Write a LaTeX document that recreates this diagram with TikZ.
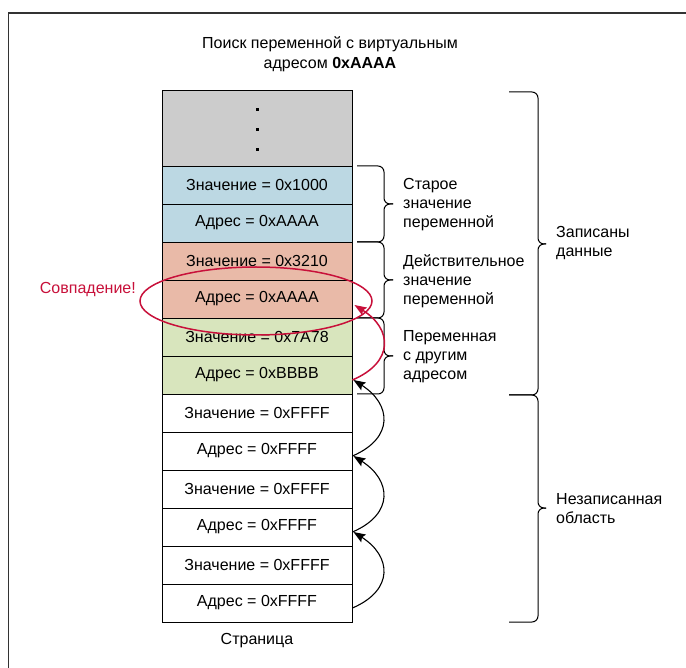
\documentclass[tikz,border=0pt]{standalone}
\usepackage{fontspec}
\setmainfont{Liberation Sans}
\usetikzlibrary{arrows.meta,shapes.geometric,calc}
\definecolor{cgray}{HTML}{CCCCCC}
\definecolor{cblue}{HTML}{BCD8E3}
\definecolor{cpink}{HTML}{E9BAA8}
\definecolor{cgreen}{HTML}{D8E5BD}
\definecolor{cred}{HTML}{C8103A}
\definecolor{frame}{HTML}{333333}
\tikzset{
  cell/.style={draw, line width=0.9pt, minimum width=190pt, minimum height=38pt, inner sep=0pt, font=\fontsize{16}{19}\selectfont},
  lbl/.style={align=left, anchor=west, inner sep=0pt, font=\fontsize{16}{19}\selectfont},
  brace/.style={draw, line width=1pt, rounded corners=6pt},
  hop/.style={draw, line width=1.1pt, -{Stealth[length=12pt,width=9pt,inset=2pt]}},
}
\begin{document}
\begin{tikzpicture}[x=1pt,y=-1pt]
\useasboundingbox (0,0) rectangle (686,668);
\fill[white] (0,0) rectangle (686,668);
\draw[frame, line width=1.5pt] (8.5,668) -- (8.5,13) -- (686,13);
% title
\node[align=center, inner sep=0pt, font=\fontsize{16}{20}\selectfont] (title) at (330,54) {Поиск переменной с виртуальным\\адресом \textbf{0xAAAA}};
% column
\node[cell, fill=cgray, minimum height=76pt] (top) at (257,128) {};
\foreach \yy in {110,130,150} \fill (255.5,\yy-1.5) rectangle (258.5,\yy+1.5);
\node[cell, fill=cblue] (v1) at (257,185) {Значение = 0x1000};
\node[cell, fill=cblue] (a1) at (257,223) {Адрес = 0xAAAA};
\node[cell, fill=cpink] (v2) at (257,261) {Значение = 0x3210};
\node[cell, fill=cpink] (a2) at (257,299) {Адрес = 0xAAAA};
\node[cell, fill=cgreen] (v3) at (257,337) {Значение = 0x7A78};
\node[cell, fill=cgreen] (a3) at (257,375) {Адрес = 0xBBBB};
\node[cell, fill=white] (v4) at (257,413) {Значение = 0xFFFF};
\node[cell, fill=white] (a4) at (257,451) {Адрес = 0xFFFF};
\node[cell, fill=white] (v5) at (257,489) {Значение = 0xFFFF};
\node[cell, fill=white] (a5) at (257,527) {Адрес = 0xFFFF};
\node[cell, fill=white] (v6) at (257,565) {Значение = 0xFFFF};
\node[cell, fill=white] (a6) at (257,603) {Адрес = 0xFFFF};
\node[inner sep=0pt, font=\fontsize{16}{19}\selectfont] (page) at (257,641) {Страница};
% small braces
\draw[brace] (357,166) -- (384,166) -- (384,204) -- (393,204);
\draw[brace] (357,242) -- (384,242) -- (384,204) -- (393,204);
\draw[brace] (357,242) -- (384,242) -- (384,280) -- (393,280);
\draw[brace] (357,318) -- (384,318) -- (384,280) -- (393,280);
\draw[brace] (357,318) -- (384,318) -- (384,356) -- (393,356);
\draw[brace] (357,394) -- (384,394) -- (384,356) -- (393,356);
\node[lbl] (l1) at (403,205) {Старое\\значение\\переменной};
\node[lbl] (l2) at (403,281) {Действительное\\значение\\переменной};
\node[lbl] (l3) at (403,357) {Переменная\\с другим\\адресом};
% large braces
\draw[brace] (509,92) -- (538,92) -- (538,244) -- (546,244);
\draw[brace] (509,395) -- (538,395) -- (538,244) -- (546,244);
\draw[brace] (509,395) -- (538,395) -- (538,508) -- (546,508);
\draw[brace] (509,622) -- (538,622) -- (538,508) -- (546,508);
\node[lbl] (l4) at (556,243) {Записаны\\данные};
\node[lbl] (l5) at (556,509) {Незаписанная\\область};
% match
\node[draw=cred, line width=1.5pt, ellipse, minimum width=232pt, minimum height=68pt, inner sep=0pt] (match) at (256,301) {};
\node[text=cred, inner sep=0pt, font=\fontsize{16}{19}\selectfont, anchor=east] (mlbl) at (136,290) {Совпадение!};
% hops
\coordinate (s6) at ($(a6.east)+(0,5)$);
\coordinate (e5) at ($(a5.east)+(1,5)$);
\coordinate (s5) at ($(a5.east)+(0,5)$);
\coordinate (e4) at ($(a4.east)+(1,5)$);
\coordinate (s4) at ($(a4.east)+(0,5)$);
\coordinate (e3) at ($(a3.east)+(1,5)$);
\coordinate (s3) at ($(a3.east)+(0,5)$);
\coordinate (e2) at ($(a2.east)+(2,6)$);
\draw[hop] (s6) .. controls ++(42,-18) and ++(38,24) .. (e5);
\draw[hop] (s5) .. controls ++(42,-18) and ++(38,24) .. (e4);
\draw[hop] (s4) .. controls ++(42,-18) and ++(38,24) .. (e3);
\draw[hop, cred, line width=1.5pt] (s3) .. controls ++(42,-18) and ++(38,24) .. (e2);
\end{tikzpicture}
\end{document}
